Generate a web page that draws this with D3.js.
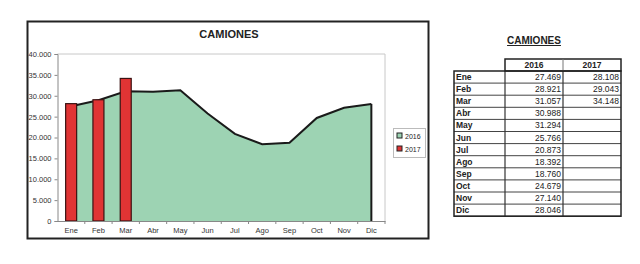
<!DOCTYPE html>
<html>
<head>
<meta charset="utf-8">
<script src="https://cdn.jsdelivr.net/npm/d3@7"></script>
<style>
  body { margin: 0; background: #fff; }
  svg { display: block; font-family: "Liberation Sans", Arial, sans-serif; }
</style>
</head>
<body>
<svg id="chart" width="640" height="264"></svg>
<script>
// data
var months = ["Ene", "Feb", "Mar", "Abr", "May", "Jun", "Jul", "Ago", "Sep", "Oct", "Nov", "Dic"];
var values2016 = [27469, 28921, 31057, 30988, 31294, 25766, 20873, 18392, 18760, 24679, 27140, 28046];
var values2017 = [28108, 29043, 34148];
var yTicks = [0, 5000, 10000, 15000, 20000, 25000, 30000, 35000, 40000];
var seriesNames = ["2016", "2017"];
var title = "CAMIONES";

var green = "#9dd3b3", red = "#e03434";
var esFmt = d3.formatLocale({decimal: ",", thousands: ".", grouping: [3], currency: ["", "€"]}).format(",d");

var svg = d3.select("#chart");

// chart frame
svg.append("rect")
  .attr("x", 27.5).attr("y", 21.5).attr("width", 401).attr("height", 217)
  .attr("fill", "#fff").attr("stroke", "#222").attr("stroke-width", 2);

svg.append("text")
  .attr("x", 229).attr("y", 38).attr("text-anchor", "middle")
  .attr("font-size", 11).attr("font-weight", "bold").attr("fill", "#222")
  .text(title);

var plotL = 57.5, plotR = 385, plotT = 54, plotB = 221;

var x = d3.scaleBand().domain(months).range([plotL, plotR]);
var y = d3.scaleLinear().domain([0, 40000]).range([plotB, plotT]);

// plot area border (light)
svg.append("path")
  .attr("d", "M" + plotL + "," + plotT + "H" + plotR + "V" + plotB)
  .attr("fill", "none").attr("stroke", "#c8c8c8");

// area 2016
var cx = function(d, i) { return x(months[i]) + x.bandwidth() / 2; };
var area = d3.area().x(cx).y0(y(0)).y1(function(d) { return y(d); });
var line = d3.line().x(cx).y(function(d) { return y(d); });

svg.append("path").datum(values2016)
  .attr("d", area).attr("fill", green);
svg.append("path").datum(values2016)
  .attr("d", line).attr("fill", "none").attr("stroke", "#1a1a1a").attr("stroke-width", 2);
// right edge of area
svg.append("line")
  .attr("x1", cx(0, 11)).attr("x2", cx(0, 11))
  .attr("y1", y(values2016[11])).attr("y2", y(0))
  .attr("stroke", "#1a1a1a").attr("stroke-width", 2);

// bars 2017
var barW = 11;
svg.selectAll(".bar").data(values2017).enter().append("rect")
  .attr("class", "bar")
  .attr("x", function(d, i) { return cx(d, i) - barW / 2; })
  .attr("y", function(d) { return y(d); })
  .attr("width", barW)
  .attr("height", function(d) { return y(0) - y(d); })
  .attr("fill", red).attr("stroke", "#3a1212").attr("stroke-width", 1.2);

// axes
var yAxis = d3.axisLeft(y).tickValues(yTicks).tickFormat(esFmt).tickSize(3).tickPadding(3);
var gy = svg.append("g").attr("transform", "translate(" + plotL + ",0)").call(yAxis);
gy.select(".domain").attr("stroke", "#888");
gy.selectAll(".tick line").attr("stroke", "#888");
gy.selectAll("text").attr("font-size", 7.5).attr("fill", "#333").attr("font-family", "Liberation Sans, Arial, sans-serif");

var xAxis = d3.axisBottom(x).tickSize(0).tickPadding(7);
var gx = svg.append("g").attr("transform", "translate(0," + plotB + ")").call(xAxis);
gx.select(".domain").attr("stroke", "#888");
gx.selectAll("text").attr("font-size", 7.5).attr("fill", "#333").attr("font-family", "Liberation Sans, Arial, sans-serif");
// category separators
gx.selectAll(".sep").data(months).enter().append("line")
  .attr("x1", function(d, i) { return plotL + x.step() * (i + 1); })
  .attr("x2", function(d, i) { return plotL + x.step() * (i + 1); })
  .attr("y1", 0).attr("y2", 3).attr("stroke", "#888");

// legend
var lg = svg.append("g");
lg.append("rect").attr("x", 393.5).attr("y", 128.5).attr("width", 32).attr("height", 29)
  .attr("fill", "#fff").attr("stroke", "#bbb");
var legendColors = [green, red];
var items = lg.selectAll(".li").data(seriesNames).enter().append("g")
  .attr("transform", function(d, i) { return "translate(397," + (133 + i * 13) + ")"; });
items.append("rect").attr("width", 5).attr("height", 5)
  .attr("fill", function(d, i) { return legendColors[i]; })
  .attr("stroke", "#222");
items.append("text").attr("x", 8).attr("y", 5.5)
  .attr("font-size", 7).attr("fill", "#222").text(function(d) { return d; });

// table
var tx0 = 454, tx1 = 505, tx2 = 563, tx3 = 621;
var rowH = 12.1, headTop = 59, dataTop = 71;

svg.append("text")
  .attr("x", 534).attr("y", 44).attr("text-anchor", "middle")
  .attr("font-size", 10).attr("font-weight", "bold").attr("fill", "#222")
  .attr("text-decoration", "underline")
  .text(title);

var tbl = svg.append("g").attr("font-size", 8.5).attr("fill", "#222");
// header cells
tbl.append("rect").attr("x", tx1).attr("y", headTop).attr("width", tx3 - tx1).attr("height", dataTop - headTop)
  .attr("fill", "#fff").attr("stroke", "#222").attr("stroke-width", 1.5);
tbl.append("line").attr("x1", tx2).attr("x2", tx2).attr("y1", headTop).attr("y2", dataTop).attr("stroke", "#777");
tbl.selectAll(".hd").data(seriesNames).enter().append("text")
  .attr("x", function(d, i) { return i === 0 ? (tx1 + tx2) / 2 : (tx2 + tx3) / 2; })
  .attr("y", headTop + 9).attr("text-anchor", "middle").attr("font-weight", "bold")
  .text(function(d) { return d; });

var bodyBottom = dataTop + rowH * months.length;
var rows = tbl.selectAll(".row").data(months).enter().append("g")
  .attr("transform", function(d, i) { return "translate(0," + (dataTop + i * rowH) + ")"; });
rows.append("line").attr("x1", tx0).attr("x2", tx3).attr("y1", rowH).attr("y2", rowH)
  .attr("stroke", "#444").attr("stroke-width", 1);
rows.append("text").attr("x", tx0 + 2).attr("y", 9).attr("font-weight", "bold")
  .text(function(d) { return d; });
rows.append("text").attr("x", tx2 - 2).attr("y", 9).attr("text-anchor", "end")
  .text(function(d, i) { return esFmt(values2016[i]); });
rows.append("text").attr("x", tx3 - 2).attr("y", 9).attr("text-anchor", "end")
  .text(function(d, i) { return values2017[i] != null ? esFmt(values2017[i]) : ""; });

[tx1, tx2].forEach(function(xx) {
  tbl.append("line").attr("x1", xx).attr("x2", xx).attr("y1", dataTop).attr("y2", bodyBottom)
    .attr("stroke", "#333").attr("stroke-width", 1.2);
});
tbl.append("rect").attr("x", tx0).attr("y", dataTop).attr("width", tx3 - tx0).attr("height", bodyBottom - dataTop)
  .attr("fill", "none").attr("stroke", "#222").attr("stroke-width", 1.5);
</script>
</body>
</html>
